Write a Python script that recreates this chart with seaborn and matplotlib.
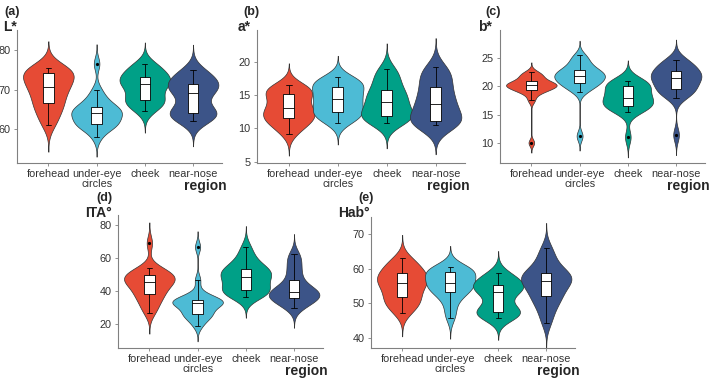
import numpy as np
import pandas as pd
import seaborn as sns
import matplotlib.pyplot as plt

# regiones y colores (paleta npg)
regions = ["forehead", "under-eye circles", "cheek", "near-nose"]
tick_labels = ["forehead", "under-eye\ncircles", "cheek", "near-nose"]
colors = ["#E64B35", "#4DBBD5", "#00A087", "#3C5488"]

# L*
lstar_forehead = [61, 62.5, 64, 65.5, 66, 66.8, 68, 69, 70, 70.5, 71, 71.8, 72.5, 73, 74, 74.4, 74.8, 75, 75.2, 75.5]
lstar_undereye = [58, 60, 60.8, 61.1, 61.2, 61.3, 62.2, 63, 63.5, 63.8, 64.2, 64.5, 64.9, 65.2, 65.5, 66.4, 67.2, 68.3, 70, 76.5]
lstar_cheek = [64.5, 65.5, 66.3, 67, 67.2, 67.4, 68.5, 69.5, 70.5, 71, 71.6, 72, 72.4, 72.8, 73, 73.8, 74.5, 75.2, 76, 76.5]
lstar_nearnose = [62, 62.8, 63.3, 63.7, 63.9, 64.1, 64.6, 65.5, 67.5, 68.8, 69.6, 70.2, 70.6, 71, 71.2, 72, 72.8, 73.5, 74.2, 75]

# a*
astar_forehead = [9.2, 10, 10.6, 11, 11.3, 11.6, 11.9, 12.2, 12.6, 12.9, 13.1, 13.6, 14.2, 14.8, 15.1, 15.4, 15.7, 16, 16.3, 16.5]
astar_undereye = [10.8, 11.3, 11.8, 12.1, 12.3, 12.5, 13, 13.5, 14, 14.3, 14.5, 14.9, 15.4, 15.9, 16.2, 16.5, 16.8, 17.1, 17.4, 17.7]
astar_cheek = [10.8, 11.1, 11.4, 11.6, 11.8, 11.95, 12.2, 12.6, 13.2, 13.7, 14.1, 14.5, 14.9, 15.3, 15.6, 16.4, 17, 17.8, 18.4, 19]
astar_nearnose = [10.5, 10.7, 10.8, 10.9, 10.95, 11.1, 11.8, 12.5, 13, 13.4, 13.8, 14.3, 15, 15.6, 16.1, 16.9, 17.6, 18.2, 18.8, 19.2]

# b*
bstar_forehead = [10, 17.5, 18.5, 19.1, 19.3, 19.4, 19.7, 19.9, 20.1, 20.15, 20.25, 20.4, 20.5, 20.6, 20.9, 21.2, 21.5, 21.9, 22.2, 22.5]
bstar_undereye = [11.2, 19, 19.6, 20.1, 20.4, 20.6, 20.9, 21.2, 21.5, 21.7, 21.9, 22.1, 22.3, 22.6, 22.8, 23.2, 23.6, 24.2, 24.9, 25.5]
bstar_cheek = [11, 15.5, 15.9, 16.2, 16.4, 16.6, 16.9, 17.3, 17.6, 17.9, 18.1, 18.5, 19, 19.5, 19.9, 20.3, 20.5, 20.7, 20.9, 21]
bstar_nearnose = [11.4, 18, 18.6, 19, 19.3, 19.5, 20, 20.6, 21, 21.3, 21.5, 21.8, 22.1, 22.4, 22.6, 23, 23.5, 24, 24.4, 24.7]

# ITA°
ita_forehead = [26.7, 30, 33, 35.5, 37.5, 38.5, 40.5, 42.5, 44, 45, 46, 46.8, 47.6, 48.4, 49.3, 50.5, 51.5, 52.5, 54, 69]
ita_undereye = [19, 22, 24.5, 25.8, 26, 26.3, 29, 31, 32, 32.5, 32.9, 33.3, 33.7, 34.1, 34.6, 35.4, 36.5, 39, 46.7, 66.7]
ita_cheek = [36.4, 37.5, 38.5, 39.5, 40.3, 40.8, 42.5, 44.5, 46.5, 48, 49, 50, 51, 52, 53, 54.2, 56, 58.5, 62, 66.7]
ita_nearnose = [29.7, 31.5, 33, 34.5, 35.5, 36, 36.8, 37.6, 38.4, 39, 39.8, 40.8, 42, 43.5, 45.8, 49.4, 52.5, 56, 59.5, 62.5]

# Hab°
hab_forehead = [47.2, 48.5, 49.5, 50.5, 51.2, 51.8, 53, 54, 55, 55.6, 56.2, 56.8, 57.3, 57.8, 58.4, 59.3, 60, 61, 62, 63]
hab_undereye = [45.8, 48, 50.5, 52, 53, 53.5, 54.2, 54.8, 55.3, 55.7, 56.1, 56.7, 57.5, 58.3, 58.9, 59.3, 59.6, 59.9, 60.2, 60.5]
hab_cheek = [45.8, 46.3, 46.8, 47.1, 47.3, 47.6, 48.2, 49.5, 51.5, 53, 53.6, 54, 54.4, 54.8, 55.1, 55.9, 56.5, 57.2, 58, 58.7]
hab_nearnose = [44.3, 47, 49, 50.5, 51.6, 52.3, 53.5, 54.5, 55.5, 56.1, 56.7, 57.2, 57.7, 58.1, 58.5, 59.3, 60.5, 62, 64, 66]


def to_long(groups):
    rows = []
    for reg, vals in zip(regions, groups):
        for v in vals:
            rows.append((reg, v))
    return pd.DataFrame(rows, columns=["region", "value"])


def nrd0(kde):
    # ancho de banda tipo R (nrd0), como factor para gaussian_kde
    x = np.asarray(kde.dataset).ravel()
    sd = x.std(ddof=1)
    iqr = np.subtract(*np.percentile(x, [75, 25]))
    lo = min(sd, iqr / 1.34) if iqr > 0 else sd
    bw = 0.9 * lo * len(x) ** -0.2
    return bw / sd


# (etiqueta, titulo eje y, datos, ylim, yticks, caja en pixeles l, t, r, b)
panels = [
    ("(a)", "L*", [lstar_forehead, lstar_undereye, lstar_cheek, lstar_nearnose],
     (51.5, 85), [60, 70, 80], (17, 30, 222, 163)),
    ("(b)", "a*", [astar_forehead, astar_undereye, astar_cheek, astar_nearnose],
     (4.8, 24.8), [5, 10, 15, 20], (257, 30, 465, 163)),
    ("(c)", "b*", [bstar_forehead, bstar_undereye, bstar_cheek, bstar_nearnose],
     (6.4, 30), [10, 15, 20, 25], (500, 30, 705, 163)),
    ("(d)", "ITA°", [ita_forehead, ita_undereye, ita_cheek, ita_nearnose],
     (5.5, 86), [20, 40, 60, 80], (118, 215, 323, 348)),
    ("(e)", "Hab°", [hab_forehead, hab_undereye, hab_cheek, hab_nearnose],
     (37, 75), [40, 50, 60, 70], (371, 217, 575, 348)),
]
label_pos = [(4, 12, 3, 27), (243, 12, 238, 27), (485, 12, 478, 27),
             (96, 198, 85, 213), (358, 198, 338, 213)]

sns.set_style("white")
plt.rcParams["font.family"] = ["Liberation Sans", "DejaVu Sans"]

W, H = 709, 380
fig = plt.figure(figsize=(W / 100, H / 100), dpi=100)

for (lab, ytitle, groups, ylim, yticks, box), (lx, ly, tx, ty) in zip(panels, label_pos):
    l, t, r, b = box
    ax = fig.add_axes([l / W, 1 - b / H, (r - l) / W, (b - t) / H])
    df = to_long(groups)
    sns.violinplot(data=df, x="region", y="value", hue="region", order=regions,
                   hue_order=regions, palette=colors, saturation=1, inner=None,
                   cut=3, bw_method=nrd0, width=1.05, linewidth=0.5,
                   linecolor="#333333", legend=False, ax=ax)
    sns.boxplot(data=df, x="region", y="value", order=regions, width=0.22,
                color="white", saturation=1, linecolor="black", linewidth=0.6,
                boxprops={"facecolor": "white"},
                flierprops={"marker": "o", "markersize": 1.3,
                            "markerfacecolor": "black", "markeredgecolor": "black"},
                ax=ax)
    ax.set_xlim(-0.65, 3.6)
    ax.set_ylim(*ylim)
    ax.set_yticks(yticks)
    ax.set_xticks(range(4))
    ax.set_xticklabels(tick_labels, fontsize=7.8, color="#333333", linespacing=1.05)
    ax.tick_params(axis="y", labelsize=7.8, labelcolor="#333333", length=2.5,
                   width=0.6, color="#808080", left=True, pad=2)
    ax.tick_params(axis="x", length=2, width=0.6, color="#808080", bottom=True, pad=2)
    ax.set_xlabel("")
    ax.set_ylabel("")
    for s in ["top", "right"]:
        ax.spines[s].set_visible(False)
    for s in ["left", "bottom"]:
        ax.spines[s].set_color("#808080")
        ax.spines[s].set_linewidth(0.8)
    ax.patch.set_alpha(0)

    fig.text(lx / W, 1 - ly / H, lab, fontsize=9, fontweight="bold", va="center")
    fig.text(tx / W, 1 - ty / H, ytitle, fontsize=10, fontweight="bold", va="center")
    fig.text((r + 5) / W, 1 - (b + 23) / H, "region", fontsize=10,
             fontweight="bold", ha="right", va="center")

fig.savefig("out.png", dpi=100)
